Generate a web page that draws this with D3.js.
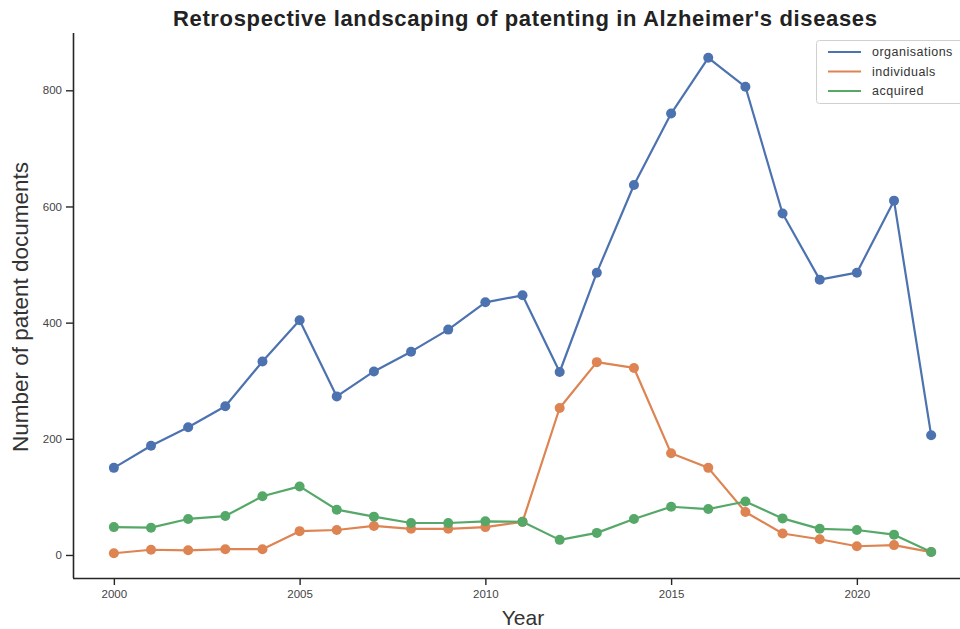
<!DOCTYPE html>
<html>
<head>
<meta charset="utf-8">
<script src="https://cdn.jsdelivr.net/npm/d3@7"></script>
<style>
  html, body { margin: 0; padding: 0; background: #fff; }
  svg { display: block; font-family: "Liberation Sans", Arial, sans-serif; }
</style>
</head>
<body>
<svg id="chart" width="960" height="629"></svg>
<script>
// Patent documents per year, split by applicant type
const years = [2000, 2001, 2002, 2003, 2004, 2005, 2006, 2007, 2008, 2009, 2010,
               2011, 2012, 2013, 2014, 2015, 2016, 2017, 2018, 2019, 2020, 2021, 2022];
const organisations = [150, 188, 220, 256, 333, 404, 273, 316, 350, 388, 435,
                       447, 315, 486, 637, 760, 856, 806, 588, 474, 486, 610, 206];
const individuals = [3, 9, 8, 10, 10, 41, 43, 50, 45, 45, 48,
                     57, 253, 332, 322, 175, 150, 74, 37, 27, 15, 17, 5];
const acquired = [48, 47, 62, 67, 101, 118, 78, 66, 55, 55, 58,
                  57, 26, 38, 62, 83, 79, 92, 63, 45, 43, 35, 5];
const seriesNames = ["organisations", "individuals", "acquired"];
const seriesColors = ["#4c72b0", "#dd8452", "#55a868"];
const xTicks = [2000, 2005, 2010, 2015, 2020];
const yTicks = [0, 200, 400, 600, 800];

const series = [organisations, individuals, acquired].map((vals, i) => ({
  name: seriesNames[i],
  color: seriesColors[i],
  points: years.map((yr, j) => ({ year: yr, value: vals[j] }))
}));

const svg = d3.select("#chart");
const plotLeft = 73, plotBottom = 578, plotTop = 33;

// Axis ranges padded by 5% of the data span on each side
const allVals = [].concat(organisations, individuals, acquired);
const yMin = d3.min(allVals), yMax = d3.max(allVals);
const yPad = (yMax - yMin) * 0.05;
const xPad = (d3.max(years) - d3.min(years)) * 0.05;

const x = d3.scaleLinear()
  .domain([d3.min(years) - xPad, d3.max(years) + xPad])
  .range([plotLeft, plotLeft + (d3.max(years) - d3.min(years) + 2 * xPad) * 37.15]);
const y = d3.scaleLinear()
  .domain([yMin - yPad, yMax + yPad])
  .range([plotBottom, plotTop]);

// Axes: left and bottom spines only
const xAxis = svg.append("g")
  .attr("transform", `translate(0,${plotBottom})`)
  .call(d3.axisBottom(x).tickValues(xTicks).tickFormat(d3.format("d")).tickSize(7).tickPadding(5).tickSizeOuter(0));
const yAxis = svg.append("g")
  .attr("transform", `translate(${plotLeft},0)`)
  .call(d3.axisLeft(y).tickValues(yTicks).tickSize(7).tickPadding(4).tickSizeOuter(0));

[xAxis, yAxis].forEach(g => {
  g.select(".domain").attr("stroke", "#262626").attr("stroke-width", 1.6);
  g.selectAll(".tick line").attr("stroke", "#262626").attr("stroke-width", 1.4);
  g.selectAll(".tick text")
    .attr("fill", "#444")
    .style("font-size", "11.5px")
    .style("font-family", "'Liberation Sans', Arial, sans-serif");
});
xAxis.select(".domain").attr("d", `M${plotLeft},0.5H960`);
yAxis.select(".domain").attr("d", `M0.5,${plotTop}V${plotBottom}`);

// Lines and markers
const line = d3.line().x(d => x(d.year)).y(d => y(d.value));
const g = svg.append("g");
series.forEach(s => {
  g.append("path")
    .datum(s.points)
    .attr("fill", "none")
    .attr("stroke", s.color)
    .attr("stroke-width", 2.2)
    .attr("stroke-linejoin", "round")
    .attr("d", line);
});
series.forEach(s => {
  g.selectAll(null)
    .data(s.points)
    .enter().append("circle")
    .attr("cx", d => x(d.year))
    .attr("cy", d => y(d.value))
    .attr("r", 5)
    .attr("fill", s.color);
});

// Title and axis labels
svg.append("text")
  .attr("x", 525).attr("y", 26)
  .attr("text-anchor", "middle")
  .attr("fill", "#222")
  .attr("textLength", 704)
  .attr("lengthAdjust", "spacing")
  .style("font-size", "22px")
  .style("font-weight", "bold")
  .text("Retrospective landscaping of patenting in Alzheimer's diseases");

svg.append("text")
  .attr("x", 523).attr("y", 625)
  .attr("text-anchor", "middle")
  .attr("fill", "#333")
  .style("font-size", "21px")
  .text("Year");

svg.append("text")
  .attr("transform", "translate(28,307) rotate(-90)")
  .attr("text-anchor", "middle")
  .attr("fill", "#333")
  .style("font-size", "22.5px")
  .text("Number of patent documents");

// Legend
const lg = svg.append("g").attr("transform", "translate(816,40)");
lg.append("rect")
  .attr("x", 0.5).attr("y", 0.5)
  .attr("width", 170).attr("height", 63)
  .attr("rx", 3)
  .attr("fill", "#fff")
  .attr("fill-opacity", 0.8)
  .attr("stroke", "#d0d0d0");
series.forEach((s, i) => {
  const yy = 12 + i * 19.5;
  lg.append("line")
    .attr("x1", 12).attr("x2", 45)
    .attr("y1", yy).attr("y2", yy)
    .attr("stroke", s.color)
    .attr("stroke-width", 2);
  lg.append("text")
    .attr("x", 56).attr("y", yy + 4)
    .attr("fill", "#333")
    .style("font-size", "12.5px")
    .style("letter-spacing", "0.5px")
    .text(s.name);
});
</script>
</body>
</html>
